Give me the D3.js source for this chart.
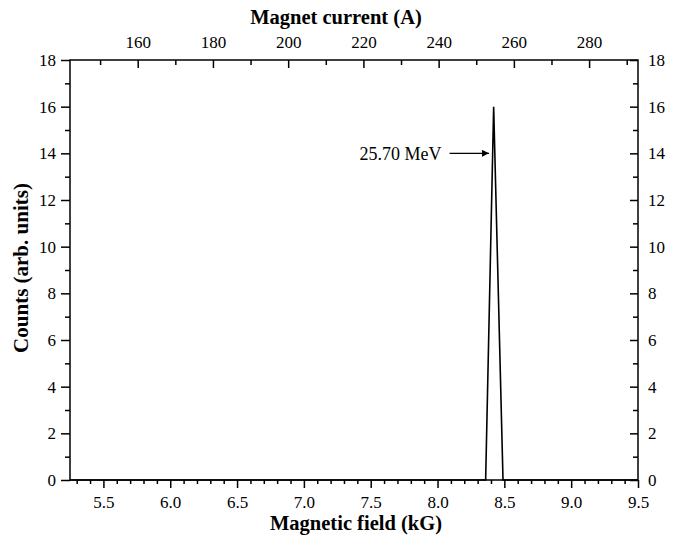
<!DOCTYPE html>
<html>
<head>
<meta charset="utf-8">
<script src="https://cdn.jsdelivr.net/npm/d3@7"></script>
</head>
<body style="margin:0;background:#fff">
<svg id="chart" width="674" height="540"></svg>
<script>
// spectrum (magnetic field in kG vs counts)
const fieldKG = [5.25, 8.36, 8.42, 8.49, 9.5]
const counts = [0, 0, 16, 0, 0]

// tick labels
const fieldTicks = [5.5, 6.0, 6.5, 7.0, 7.5, 8.0, 8.5, 9.0, 9.5]
const currentTicks = [160, 180, 200, 220, 240, 260, 280]
const countTicks = [0, 2, 4, 6, 8, 10, 12, 14, 16, 18]

// peak annotation
const peakLabel = '25.70 MeV'
const peakArrow = { x0: 8.09, x1: 8.385, y: 14 }

const serif = '"Liberation Serif", "Times New Roman", serif'
const margin = { top: 60, right: 36, bottom: 60, left: 70 }
const width = 674, height = 540
const innerW = width - margin.left - margin.right
const innerH = height - margin.top - margin.bottom

const svg = d3.select('#chart').style('font-family', serif)
const g = svg.append('g').attr('transform', `translate(${margin.left},${margin.top})`)

const x = d3.scaleLinear().domain([5.25, 9.5]).range([0, innerW])
const xTop = d3.scaleLinear().domain([142, 293]).range([0, innerW])
const y = d3.scaleLinear().domain([0, 18]).range([innerH, 0])

const fmt1 = d3.format('.1f')

// minor ticks
const xMinor = d3.range(5.3, 9.5, 0.1).filter(v => Math.abs(v * 2 - Math.round(v * 2)) > 1e-6)
const topMinor = d3.range(150, 293, 20)
const yMinor = d3.range(1, 18, 2)

// bottom axis (ticks outward)
g.append('g').attr('class', 'axis').attr('transform', `translate(0,${innerH})`)
    .call(d3.axisBottom(x).tickValues(xMinor).tickSize(4).tickFormat(''))
g.append('g').attr('class', 'axis').attr('transform', `translate(0,${innerH})`)
    .call(d3.axisBottom(x).tickValues(fieldTicks).tickSize(8).tickPadding(8).tickFormat(fmt1))

// top axis (ticks inward)
g.append('g').attr('class', 'axis')
    .call(d3.axisTop(xTop).tickValues(topMinor).tickSize(-5).tickFormat(''))
g.append('g').attr('class', 'axis')
    .call(d3.axisTop(xTop).tickValues(currentTicks).tickSize(-8).tickPadding(12).tickFormat(d3.format('d')))

// left axis (ticks outward)
g.append('g').attr('class', 'axis')
    .call(d3.axisLeft(y).tickValues(yMinor).tickSize(5).tickFormat(''))
g.append('g').attr('class', 'axis')
    .call(d3.axisLeft(y).tickValues(countTicks).tickSize(9).tickPadding(5).tickFormat(d3.format('d')))

// right axis (ticks inward)
g.append('g').attr('class', 'axis').attr('transform', `translate(${innerW},0)`)
    .call(d3.axisRight(y).tickValues(yMinor).tickSize(-5).tickFormat(''))
g.append('g').attr('class', 'axis').attr('transform', `translate(${innerW},0)`)
    .call(d3.axisRight(y).tickValues(countTicks).tickSize(-8).tickPadding(10).tickFormat(d3.format('d')))

// axis styling
g.selectAll('.axis').attr('font-family', serif).attr('font-size', 17)
g.selectAll('.axis .domain').remove()
g.selectAll('.axis line').attr('stroke', '#000').attr('stroke-width', 1.5)
g.selectAll('.axis text').attr('fill', '#000')

// frame
g.append('rect')
    .attr('width', innerW).attr('height', innerH)
    .attr('fill', 'none').attr('stroke', '#000').attr('stroke-width', 1.5)

// spectrum line
const line = d3.line().x((d, i) => x(fieldKG[i])).y(d => y(d))
g.append('path')
    .datum(counts)
    .attr('d', line)
    .attr('fill', 'none')
    .attr('stroke', '#000')
    .attr('stroke-width', 1.6)
    .attr('stroke-linejoin', 'miter')

// annotation
svg.append('defs').append('marker')
    .attr('id', 'arrow')
    .attr('viewBox', '0 0 10 10')
    .attr('refX', 10).attr('refY', 5)
    .attr('markerWidth', 9).attr('markerHeight', 7)
    .attr('markerUnits', 'userSpaceOnUse')
    .attr('orient', 'auto')
    .append('path').attr('d', 'M0,0L10,5L0,10Z').attr('fill', '#000')

g.append('line')
    .attr('x1', x(peakArrow.x0)).attr('x2', x(peakArrow.x1))
    .attr('y1', y(peakArrow.y)).attr('y2', y(peakArrow.y))
    .attr('stroke', '#000').attr('stroke-width', 1.2)
    .attr('marker-end', 'url(#arrow)')

g.append('text')
    .attr('x', x(peakArrow.x0) - 8).attr('y', y(peakArrow.y))
    .attr('dy', '0.35em')
    .attr('text-anchor', 'end')
    .attr('font-family', serif)
    .attr('font-size', 18)
    .text(peakLabel)

// axis titles
svg.append('text')
    .attr('x', 336).attr('y', 24)
    .attr('text-anchor', 'middle')
    .attr('font-family', serif).attr('font-size', 20.5).attr('font-weight', 'bold')
    .text('Magnet current (A)')

svg.append('text')
    .attr('x', 356).attr('y', 530)
    .attr('text-anchor', 'middle')
    .attr('font-family', serif).attr('font-size', 20.5).attr('font-weight', 'bold')
    .text('Magnetic field (kG)')

svg.append('text')
    .attr('transform', 'translate(28,268) rotate(-90)')
    .attr('text-anchor', 'middle')
    .attr('font-family', serif).attr('font-size', 21).attr('font-weight', 'bold')
    .text('Counts (arb. units)')
</script>
</body>
</html>
